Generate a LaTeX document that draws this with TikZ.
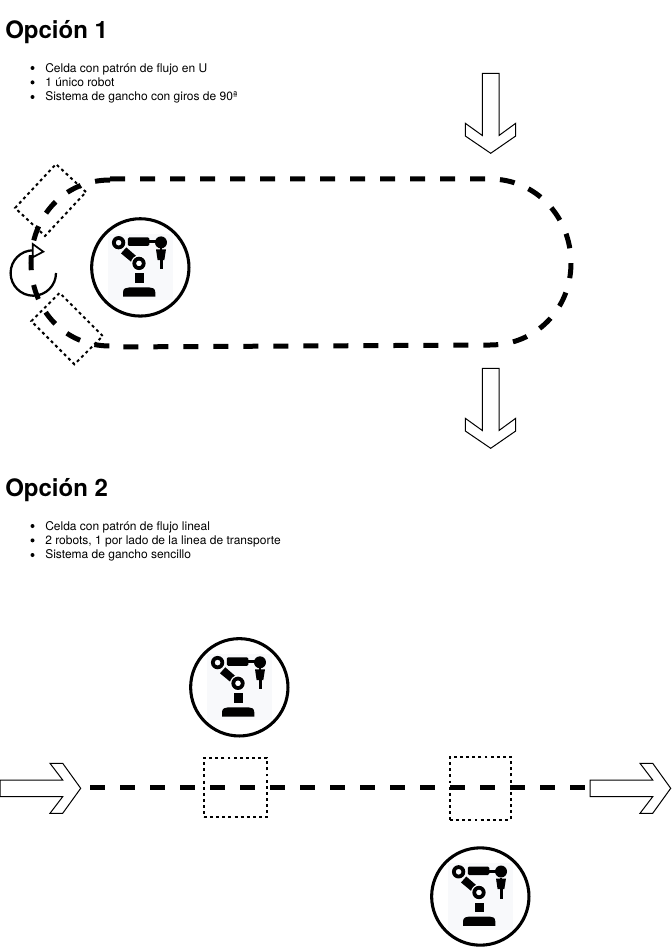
\documentclass[tikz,border=0pt]{standalone}
\usepackage{fontspec}
\setmainfont{TeX Gyre Heros}
\usetikzlibrary{positioning}
\definecolor{iconback}{HTML}{F8F9FB}
\tikzset{
  heading/.style={anchor=base west, inner sep=0pt, font=\bfseries\fontsize{18}{18}\selectfont},
  bullettext/.style={anchor=base west, inner sep=0pt, font=\fontsize{9}{9}\selectfont},
  blockarrow/.style={draw, line width=.75pt, fill=white, line join=miter},
  flowline/.style={line width=3.75pt, dash pattern=on 11.25pt off 11.25pt},
  hookbox/.style={draw, line width=1.5pt, dash pattern=on 2.2pt off 2.4pt, minimum width=#1},
  robotcircle/.style={draw, circle, line width=2.3pt, fill=white, minimum size=73pt, inner sep=0pt},
  pics/robot/.style={code={
    \fill[iconback] (-32.5,-33.5) rectangle (32.5,33);
    % arm
    \fill[rounded corners=1pt] (-12.5,-30) rectangle (9,-21.5);
    \fill (9,-27) rectangle (20,-24);
    \fill (-19.3,-14) -- (-14,-20) -- (-3.3,-10.7) -- (-9.3,-5.7) -- cycle;
    % joints
    \fill[white] (-1.3,-4) circle[radius=6pt];
    \fill[even odd rule] (-21.7,-24.7) circle[radius=5pt] (-21.7,-24.7) circle[radius=2.2pt];
    \fill[even odd rule] (-1.3,-4) circle[radius=5pt] (-1.3,-4) circle[radius=2.2pt];
    \fill (20.7,-25) circle[radius=4.5pt];
    % gripper
    \fill (15.7,-18) -- (25.7,-18) -- (24,-7.3) -- (17.3,-7.3) -- cycle;
    \fill (19.3,-19) rectangle (22.1,-16);
    \fill (19.5,-7.3) rectangle (22.5,2);
    % base
    \fill (-5.7,6) rectangle (3.5,15.5);
    \fill (-17.3,29.3) -- (-17.3,25) .. controls (-17.3,21) and (-14,20) .. (-11,20) -- (9,20)
      .. controls (12,20) and (15,21) .. (15,25) -- (15,29.3) -- cycle;
  }}
}

\begin{document}
\begin{tikzpicture}[x=.75pt, y=-.75pt]
  \useasboundingbox (0,0) rectangle (671,948);

  % Option 1 text
  \node[heading] (title1) at (5,38.4) {Opción 1};
  \node[bullettext] (item1a) at (45,72.2) {Celda con patrón de flujo en U};
  \node[bullettext] (item1b) at (45,86.4) {1 único robot};
  \node[bullettext] (item1c) at (45,100.8) {Sistema de gancho con giros de 90ª};
  \foreach \y in {68,82.4,97}
    \fill (32.5,\y) circle[radius=1.5pt];

  % Down arrows
  \foreach \y in {0,295}
    \draw[blockarrow, yshift=-.75*\y pt] (482.3,73.3) -- (499,73.3) -- (499,135.5) -- (515.7,123.3)
      -- (515.7,136) -- (490.7,153.3) -- (465.3,136) -- (465.3,123.3) -- (482.3,135.5) -- cycle;

  % Hook boxes
  \node[hookbox=30.75pt, minimum height=45pt, rotate=-43] (hookTop) at (50.5,200) {};
  \node[hookbox=45.75pt, minimum height=30pt, rotate=-45] (hookBottom) at (67,328.6) {};

  % Turn arrow
  \draw[line width=1.7pt] (56,273) arc[start angle=0, end angle=270, radius=22.7];
  \draw[line width=1.3pt, fill=white] (32.7,244) -- (43.3,251.7) -- (32.7,257.3) -- cycle;

  % U flow line
  \coordinate (uStart) at (110,179);
  \coordinate (uEnd) at (110,347);
  \coordinate (arcStart) at (110,180);
  \coordinate (arcEnd) at (110,346);
  \draw[flowline] (uStart) -- (490,179) .. controls (536,179) and (571,217) .. (571,263)
    .. controls (571,309) and (536,345) .. (490,345) -- (uEnd);
  \draw[flowline] (arcStart) .. controls (64,180) and (31,217) .. (31,263)
    .. controls (31,309) and (64,346) .. (arcEnd);

  % Robot option 1
  \node[robotcircle] (robot1) at (140.3,267.4) {};
  \pic at (robot1) {robot};

  % Option 2 text
  \node[heading] (title2) at (5,496.4) {Opción 2};
  \node[bullettext] (item2a) at (45,530.2) {Celda con patrón de flujo lineal};
  \node[bullettext] (item2b) at (45,544.4) {2 robots, 1 por lado de la linea de transporte};
  \node[bullettext] (item2c) at (45,558.8) {Sistema de gancho sencillo};
  \foreach \y in {526,540.4,555}
    \fill (32.5,\y) circle[radius=1.5pt];

  % Right arrows
  \foreach \x in {0,590}
    \draw[blockarrow, xshift=.75*\x pt] (0,780) -- (62.7,780) -- (50,763.3) -- (62.7,763.3) -- (80.7,788.3)
      -- (62.7,813.3) -- (50,813.3) -- (62.7,796.7) -- (0,796.7) -- cycle;

  % Hook boxes and line
  \node[hookbox=47.5pt, minimum height=44.5pt] (hookLeft) at (235.6,787.7) {};
  \node[hookbox=45.5pt, minimum height=47.5pt] (hookRight) at (480.3,788.3) {};
  \coordinate (lineStart) at (90,787);
  \coordinate (lineEnd) at (585,787);
  \draw[flowline] (lineStart) -- (lineEnd);

  % Robots option 2
  \node[robotcircle] (robot2) at (239.3,687.3) {};
  \pic at (robot2) {robot};
  \node[robotcircle] (robot3) at (480.3,896.5) {};
  \pic at (robot3) {robot};
\end{tikzpicture}
\end{document}
